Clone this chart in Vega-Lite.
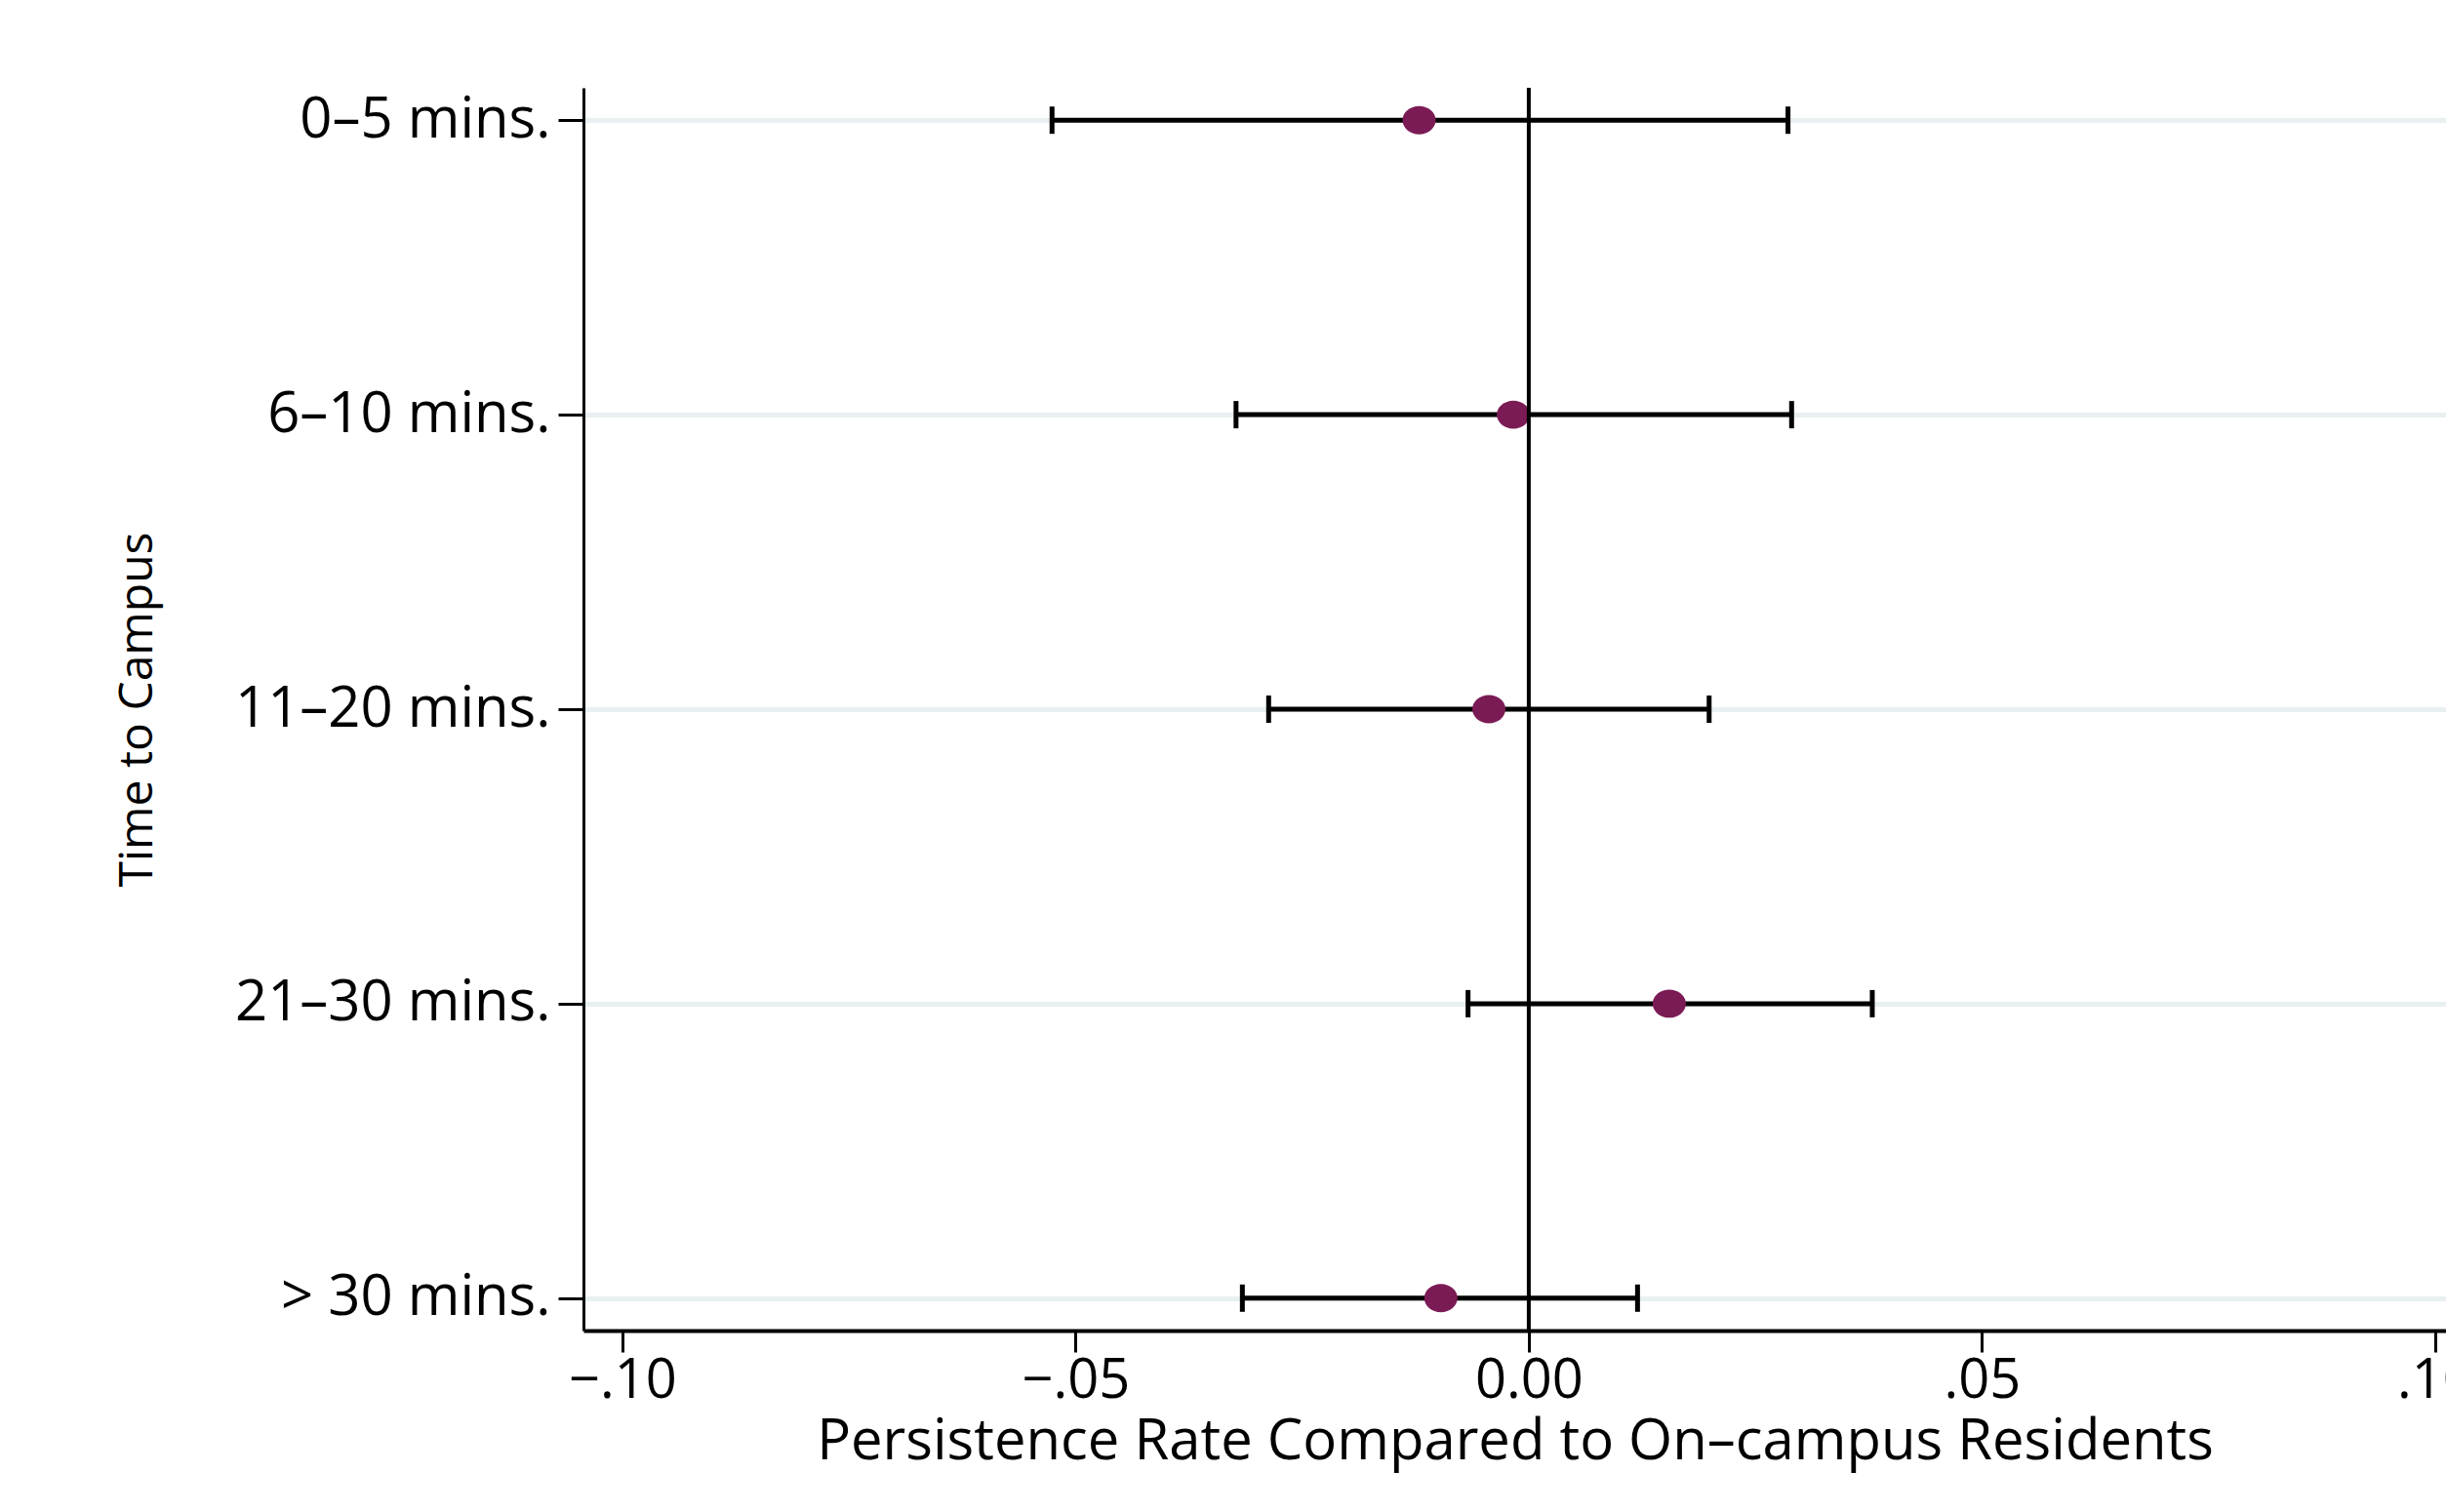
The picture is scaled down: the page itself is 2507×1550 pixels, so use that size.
{
  "$schema": "https://vega.github.io/schema/vega-lite/v6.json",
  "width": 1909,
  "height": 1274,
  "autosize": {"type": "none"},
  "padding": {"left": 598, "top": 90, "right": 0, "bottom": 186},
  "background": "white",
  "config": {
    "font": "Open Sans",
    "view": {"stroke": null},
    "axis": {"labelFont": "Open Sans", "titleFont": "Open Sans", "labelColor": "black", "titleColor": "black", "domainColor": "black", "tickColor": "black", "titleFontWeight": "normal", "labelLimit": 1000}
  },
  "data": {
    "values": [
      {"cat": "0–5 mins.", "est": -0.0121, "lo": -0.0526, "hi": 0.0286},
      {"cat": "6–10 mins.", "est": -0.0017, "lo": -0.0323, "hi": 0.0290},
      {"cat": "11–20 mins.", "est": -0.0044, "lo": -0.0287, "hi": 0.0199},
      {"cat": "21–30 mins.", "est": 0.0155, "lo": -0.0067, "hi": 0.0379},
      {"cat": "> 30 mins.", "est": -0.0097, "lo": -0.0316, "hi": 0.0120}
    ]
  },
  "encoding": {
    "y": {
      "field": "cat",
      "type": "ordinal",
      "sort": null,
      "scale": {"type": "point", "padding": 0.11},
      "axis": {
        "title": "Time to Campus",
        "titleFontSize": 48,
        "titleX": -457,
        "titleBaseline": "middle",
        "titleAngle": -90,
        "labelFontSize": 58,
        "labelPadding": 8,
        "tickSize": 26,
        "tickWidth": 3,
        "domainWidth": 3,
        "grid": true,
        "gridColor": "#e8f0f1",
        "gridWidth": 5
      }
    }
  },
  "layer": [
    {
      "mark": {"type": "rule", "color": "black", "strokeWidth": 5},
      "encoding": {
        "x": {
          "field": "lo",
          "type": "quantitative",
          "scale": {"domain": [-0.1043, 0.1012], "nice": false, "zero": false},
          "axis": {
            "title": "Persistence Rate Compared to On–campus Residents",
            "titleFontSize": 58,
            "titlePadding": 6,
            "labelFontSize": 56,
            "labelPadding": 2,
            "tickSize": 22,
            "tickWidth": 3,
            "domainWidth": 4,
            "grid": false,
            "values": [-0.1, -0.05, 0, 0.05, 0.1],
            "labelExpr": "datum.value < -0.075 ? '−.10' : datum.value < -0.025 ? '−.05' : datum.value < 0.025 ? '0.00' : datum.value < 0.075 ? '.05' : '.10'"
          }
        },
        "x2": {"field": "hi"}
      }
    },
    {
      "mark": {"type": "tick", "color": "black", "size": 28, "thickness": 5, "opacity": 1},
      "encoding": {"x": {"field": "lo", "type": "quantitative"}}
    },
    {
      "mark": {"type": "tick", "color": "black", "size": 28, "thickness": 5, "opacity": 1},
      "encoding": {"x": {"field": "hi", "type": "quantitative"}}
    },
    {
      "mark": {"type": "point", "filled": true, "opacity": 1, "color": "#7b1b55", "size": 1156, "shape": "M -1 0 A 1 0.85 0 1 0 1 0 A 1 0.85 0 1 0 -1 0 Z"},
      "encoding": {"x": {"field": "est", "type": "quantitative"}}
    },
    {
      "data": {"values": [{"ref": 0}]},
      "mark": {"type": "rule", "color": "black", "strokeWidth": 4},
      "encoding": {"x": {"field": "ref", "type": "quantitative"}, "y": null}
    }
  ]
}
